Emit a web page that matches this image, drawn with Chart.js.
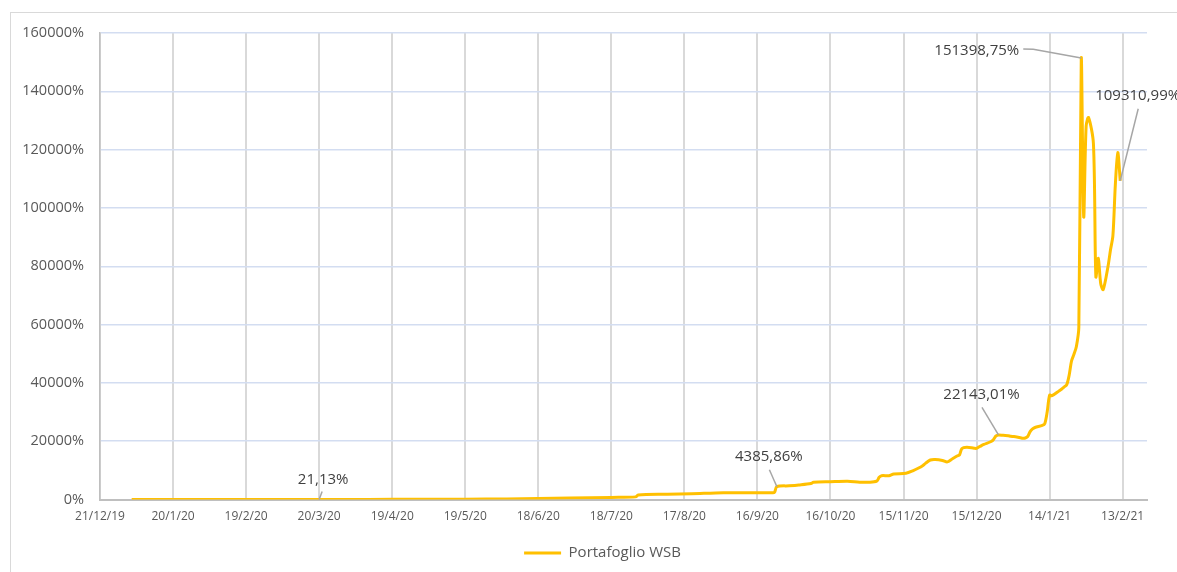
<!DOCTYPE html>
<html>
<head>
<meta charset="utf-8">
<title>Portafoglio WSB</title>
<script src="https://cdn.jsdelivr.net/npm/chart.js@4.4.1/dist/chart.umd.min.js"></script>
<style>
  html, body { margin: 0; padding: 0; background: #ffffff; }
  #frame { position: absolute; left: 10px; top: 12px; width: 1200px; height: 600px;
           border: 1px solid #d9d9d9; box-sizing: border-box; }
  #wrap { position: absolute; left: 0; top: 0; width: 1177px; height: 572px; }
</style>
</head>
<body>
<div id="frame"></div>
<div id="wrap"><canvas id="chart" width="1177" height="572"></canvas></div>
<script>
// Cumulative return of the portfolio, in percent
const seriesName = 'Portafoglio WSB';

const dates = [
  '2020-01-03','2020-01-17','2020-02-03','2020-02-18','2020-03-02','2020-03-20',
  '2020-04-09','2020-04-30','2020-05-19','2020-06-05','2020-06-18','2020-07-01',
  '2020-07-18','2020-07-28','2020-07-29','2020-08-10','2020-08-20','2020-09-02',
  '2020-09-10','2020-09-22','2020-09-23','2020-09-24','2020-09-29','2020-10-03',
  '2020-10-08','2020-10-09','2020-10-16','2020-10-23','2020-10-28','2020-11-01',
  '2020-11-04','2020-11-05','2020-11-06','2020-11-09','2020-11-11','2020-11-16',
  '2020-11-19','2020-11-21','2020-11-23','2020-11-24','2020-11-26','2020-11-28',
  '2020-12-01','2020-12-03','2020-12-05','2020-12-07','2020-12-08','2020-12-09',
  '2020-12-11','2020-12-14','2020-12-15','2020-12-17','2020-12-18','2020-12-21',
  '2020-12-22','2020-12-23','2020-12-24','2020-12-26','2020-12-28','2020-12-29',
  '2020-12-30','2020-12-31','2021-01-02','2021-01-03','2021-01-04','2021-01-05',
  '2021-01-06','2021-01-07','2021-01-08','2021-01-11','2021-01-12','2021-01-13',
  '2021-01-14','2021-01-15','2021-01-18','2021-01-19','2021-01-20','2021-01-21',
  '2021-01-22','2021-01-23','2021-01-24','2021-01-25','2021-01-26','2021-01-27',
  '2021-01-28','2021-01-29','2021-01-30','2021-02-01','2021-02-02','2021-02-03',
  '2021-02-04','2021-02-05','2021-02-07','2021-02-08','2021-02-09','2021-02-10',
  '2021-02-11','2021-02-12'
];

const returns = [
  0, 2, 4, 8, 12, 21.13,
  35, 60, 90, 200, 350, 500,
  720, 900, 1550, 1800, 2000, 2350,
  2300, 2350, 2450, 4385.86, 4700, 5000,
  5500, 5900, 6100, 6250, 5950, 5900,
  6300, 7600, 8160, 8160, 8750, 9000,
  9900, 10700, 11700, 12400, 13550, 13700,
  13400, 12900, 13900, 14900, 15300, 17500,
  17900, 17600, 17560, 18500, 18900, 19900,
  20600, 21800, 22143.01, 22000, 21900, 21700,
  21600, 21500, 21200, 21000, 21100, 21600,
  23300, 24200, 24700, 25400, 26000, 30000,
  35800, 35600, 37300, 37900, 38600, 39300,
  42500, 47500, 49800, 52500, 59000, 151398.75,
  97000, 128000, 131000, 122000, 76400, 82700,
  74000, 72000, 80000, 85600, 90500, 108000,
  119000, 109310.99
];

// Dates whose value is written next to the line
const labelledDates = ['2020-03-20', '2020-09-24', '2020-12-24', '2021-01-27', '2021-02-12'];

// Date axis
const xTickLabels = ['21/12/19','20/1/20','19/2/20','20/3/20','19/4/20','19/5/20','18/6/20',
                     '18/7/20','17/8/20','16/9/20','16/10/20','15/11/20','15/12/20','14/1/21','13/2/21'];
const xStart = '2019-12-21';
const xEnd = '2021-02-23';

// Value axis
const yMax = 160000;
const yStep = 20000;

// ---------------------------------------------------------------
const DAY_MS = 86400000;
const BASE = (() => { const [y, m, d] = xStart.split('-').map(Number); return Date.UTC(y, m - 1, d); })();
function dayOfIso(s) { const [y, m, d] = s.split('-').map(Number); return (Date.UTC(y, m - 1, d) - BASE) / DAY_MS; }
function dayOfDmy(s) { const [d, m, yy] = s.split('/').map(Number); return (Date.UTC(2000 + yy, m - 1, d) - BASE) / DAY_MS; }
const tickDays = xTickLabels.map(dayOfDmy);

const points = dates.map((d, i) => ({ x: dayOfIso(d), y: returns[i] }));

function pct(v) { return v.toFixed(2).replace('.', ',') + '%'; }

// Placement of each value label and its leader line, relative to the point
const labelStyle = [
  { dx: 4,   dy: -20, align: 'center', leader: [[3, -8]] },
  { dx: -8,  dy: -30, align: 'center', leader: [[-7.5, -17]] },
  { dx: -17, dy: -40, align: 'center', leader: [[-16.5, -27.5]] },
  { dx: -62, dy: -7.5, align: 'right', leader: [[-48, -8.8], [-58, -9.2]] },
  { dx: -25, dy: -85, align: 'left', leader: [[18, -72]] }
];

const valueLabels = {
  id: 'valueLabels',
  afterDatasetsDraw(chart) {
    const { ctx, scales: { x, y } } = chart;
    ctx.save();
    labelledDates.forEach((d, k) => {
      const i = dates.indexOf(d);
      const px = x.getPixelForValue(dayOfIso(d));
      const py = y.getPixelForValue(returns[i]);
      const st = labelStyle[k];
      ctx.beginPath();
      ctx.strokeStyle = '#a6a6a6';
      ctx.lineWidth = 1.5;
      ctx.moveTo(px, py);
      st.leader.forEach(([lx, ly]) => ctx.lineTo(px + lx, py + ly));
      ctx.stroke();
      ctx.font = '15px "Open Sans"';
      ctx.fillStyle = '#404040';
      ctx.textAlign = st.align;
      ctx.textBaseline = 'middle';
      ctx.fillText(pct(returns[i]), px + st.dx, py + st.dy);
    });
    ctx.restore();
  }
};

// The legend is centred on the whole chart frame, which runs a little past the plot on the right
const legendShift = {
  id: 'legendShift',
  afterLayout(chart) {
    if (chart.legend) chart.legend.left += 58;
  }
};

new Chart(document.getElementById('chart'), {
  type: 'line',
  data: {
    datasets: [{
      label: seriesName,
      data: points,
      borderColor: '#ffc000',
      backgroundColor: '#ffc000',
      borderWidth: 3,
      pointRadius: 0,
      pointHoverRadius: 0,
      tension: 0.3,
      fill: false
    }]
  },
  options: {
    responsive: false,
    animation: false,
    devicePixelRatio: 1,
    layout: { padding: { left: 0, right: 30, top: 33, bottom: 1.5 } },
    plugins: {
      tooltip: { enabled: false },
      legend: {
        position: 'bottom',
        labels: {
          boxWidth: 37,
          boxHeight: 3,
          color: '#595959',
          font: { family: 'Open Sans', size: 15 },
          generateLabels(chart) {
            const ds = chart.data.datasets[0];
            return [{ text: ds.label, fillStyle: ds.borderColor, strokeStyle: ds.borderColor,
                      lineWidth: 0, datasetIndex: 0, hidden: false, fontColor: '#595959' }];
          }
        }
      }
    },
    scales: {
      x: {
        type: 'linear',
        min: dayOfIso(xStart),
        max: dayOfIso(xEnd),
        afterBuildTicks(scale) { scale.ticks = tickDays.map(v => ({ value: v })); },
        afterFit(scale) { scale.height = 36; },
        grid: { color: '#d9d9d9', lineWidth: 2, drawTicks: false },
        border: { color: '#bfbfbf', width: 2 },
        ticks: {
          padding: 10,
          maxRotation: 0,
          autoSkip: false,
          color: '#595959',
          font: { family: 'Open Sans', size: 12 },
          callback(v) { const k = tickDays.indexOf(v); return k >= 0 ? xTickLabels[k] : ''; }
        }
      },
      y: {
        min: 0,
        max: yMax,
        afterFit(scale) { scale.width = 100; },
        grid: { color: '#d3ddf1', lineWidth: 1.5, drawTicks: false },
        border: { color: '#bfbfbf', width: 1.5 },
        ticks: {
          stepSize: yStep,
          padding: 16,
          color: '#595959',
          font: { family: 'Open Sans', size: 14.5 },
          callback(v) { return v + '%'; }
        }
      }
    }
  },
  plugins: [valueLabels, legendShift]
});
</script>
</body>
</html>
